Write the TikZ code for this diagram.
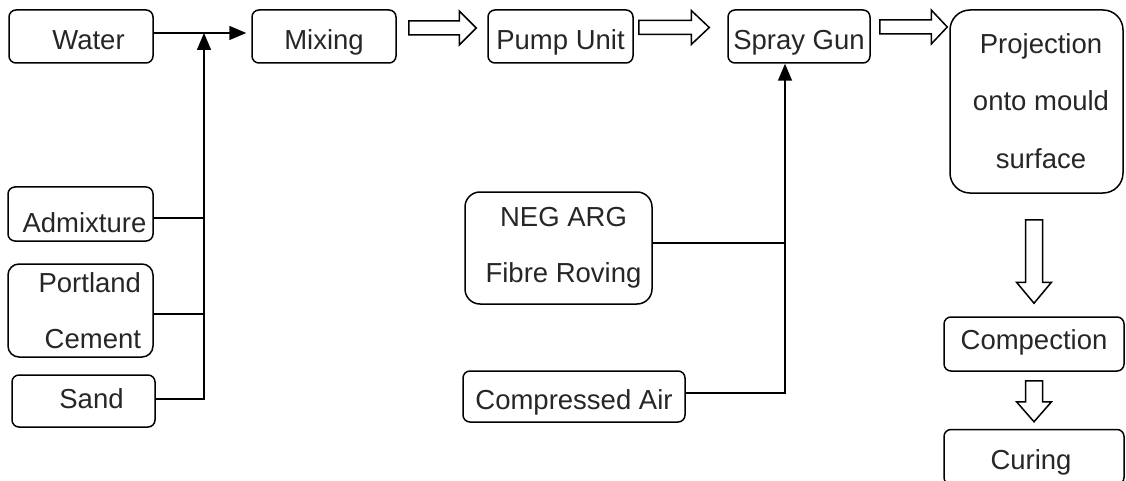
\documentclass[tikz,border=0pt]{standalone}
\usepackage{fontspec}
\setmainfont{Liberation Sans}
\usetikzlibrary{arrows.meta,calc}
\tikzset{
  x=1pt, y=-1pt,
  boxbase/.style={draw, line width=1.5pt, inner sep=0pt, text=black!85, font=\fontsize{27.5}{56}\selectfont},
  box/.style={boxbase, rounded corners=7pt, text height=26pt, text depth=0pt},
  mbox/.style={boxbase, rounded corners=#1},
  conn/.style={line width=1.5pt},
  tipped/.style={-{Triangle[length=17pt,width=14pt]}},
  hollow/.style={draw, line width=1.5pt, fill=white, line join=miter},
}
\newcommand{\hharrow}[3]{\draw[hollow] let \p1=(#1), \p2=(#2) in
  (\x1,\y1+7pt) -- (\x2-#3,\y1+7pt) -- (\x2-#3,\y1+17pt) -- (\x2,\y1)
  -- (\x2-#3,\y1-17pt) -- (\x2-#3,\y1-7pt) -- (\x1,\y1-7pt) -- cycle;}
\newcommand{\vvarrow}[3]{\draw[hollow] let \p1=(#1), \p2=(#2) in
  (\x2-8.5pt,\y1) -- (\x2-8.5pt,\y2+#3) -- (\x2-17.5pt,\y2+#3) -- (\x2,\y2)
  -- (\x2+17.5pt,\y2+#3) -- (\x2+8.5pt,\y2+#3) -- (\x2+8.5pt,\y1) -- cycle;}
\begin{document}
\begin{tikzpicture}
\useasboundingbox (0,0) rectangle (1126,481);
% top row
\node[box, minimum width=144pt, minimum height=53pt] (water) at (81,36.5) {\hspace*{15pt}Water};
\node[box, minimum width=144pt, minimum height=53pt] (mixing) at (324,36.5) {Mixing};
\node[box, minimum width=145pt, minimum height=53pt] (pump) at (560.5,36.5) {Pump Unit};
\node[box, minimum width=142pt, minimum height=53pt] (spray) at (799,36.5) {Spray Gun};
\node[mbox=20pt, minimum width=173pt, minimum height=183pt, align=center] (proj) at (1036.5,101.5)
  {\hspace*{9pt}Projection\\[1pt]\hspace*{9pt}onto mould\\[2pt]\hspace*{9pt}surface};
% left column
\node[box, minimum width=145pt, minimum height=54pt] (admix) at (80.5,214) {\hspace*{8pt}\raisebox{-5pt}{Admixture}};
\node[mbox=11pt, minimum width=145pt, minimum height=93pt, text width=121pt, align=right] (portland) at (80.5,310.5) {Portland\\Cement};
\node[box, minimum width=143pt, minimum height=52pt] (sand) at (83.5,401) {\hspace*{16pt}\raisebox{5.5pt}{Sand}};
% middle
\node[mbox=15pt, minimum width=187pt, minimum height=112pt, align=center] (neg) at (558.5,248)
  {\hspace*{10pt}NEG ARG\\\hspace*{10pt}Fibre Roving};
\node[box, minimum width=222pt, minimum height=51pt] (air) at (574,396.5) {Compressed Air};
% right column
\node[box, minimum width=180pt, minimum height=54pt] (comp) at (1034,344) {\raisebox{7.5pt}{Compection}};
\node[box, minimum width=180pt, minimum height=55pt] (curing) at (1034,457) {\raisebox{1pt}{Curing}\hspace*{6pt}};
% connectors, left
\coordinate (jtop) at (204,33);
\draw[conn, tipped, shorten >=5pt] ([yshift=3.5pt]water.east) -- ([yshift=3.5pt]mixing.west);
\draw[conn] ([yshift=-4pt]admix.east) -- ([yshift=-4pt]admix.east -| jtop);
\draw[conn] ([yshift=-3.5pt]portland.east) -- ([yshift=-3.5pt]portland.east -| jtop);
\draw[conn, tipped] ([yshift=2pt]sand.east) -| (jtop);
% connectors, middle
\coordinate (sprayin) at ([xshift=-14pt]spray.south);
\draw[conn] ([yshift=5pt]neg.east) -- ([yshift=5pt]neg.east -| sprayin);
\draw[conn, tipped] ([yshift=3.5pt]air.east) -| (sprayin);
% hollow arrows
\hharrow{[xshift=12pt,yshift=8.5pt]mixing.east}{[xshift=-11pt]pump.west}{17pt}
\hharrow{[xshift=5pt,yshift=9pt]pump.east}{[xshift=-18pt]spray.west}{18pt}
\hharrow{[xshift=9pt,yshift=9.5pt]spray.east}{[xshift=-2pt]proj.west}{16pt}
\vvarrow{[yshift=-26pt]proj.south}{[yshift=13pt]comp.north}{21pt}
\vvarrow{[yshift=-9pt]comp.south}{[yshift=7pt]curing.north}{20pt}
\end{tikzpicture}
\end{document}
